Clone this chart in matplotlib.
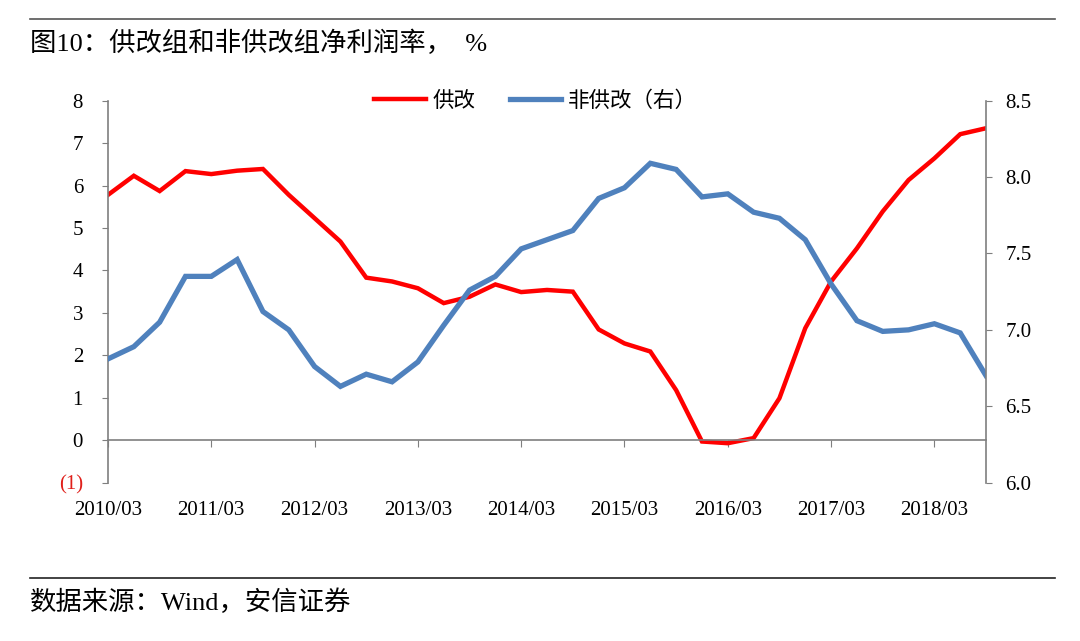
import matplotlib
matplotlib.use('Agg')
from matplotlib import pyplot as plt
from matplotlib.lines import Line2D

plt.rcParams['font.family'] = ['Liberation Serif', 'Noto Sans CJK SC', 'DejaVu Sans']

# quarterly, 2010/03 .. 2018/09
quarters = []
for y in range(2010, 2019):
    for m in ['03', '06', '09', '12']:
        quarters.append(f'{y}/{m}')
quarters = quarters[:35]

gong_gai = [5.78, 6.23, 5.87, 6.34, 6.27, 6.35, 6.39, 5.78, 5.23, 4.68,
            3.83, 3.74, 3.58, 3.23, 3.38, 3.67, 3.49, 3.54, 3.50, 2.61,
            2.28, 2.09, 1.18, -0.03, -0.07, 0.05, 0.99, 2.64, 3.74, 4.52,
            5.39, 6.13, 6.64, 7.21, 7.35]
fei_gong_gai = [6.81, 6.89, 7.05, 7.35, 7.35, 7.46, 7.12, 7.00, 6.76, 6.63,
                6.71, 6.66, 6.79, 7.03, 7.26, 7.35, 7.53, 7.59, 7.65, 7.86,
                7.93, 8.09, 8.05, 7.87, 7.89, 7.77, 7.73, 7.59, 7.30, 7.06,
                6.99, 7.00, 7.04, 6.98, 6.70]

left_ticks = [-1, 0, 1, 2, 3, 4, 5, 6, 7, 8]
left_labels = ['(1)', '0', '1', '2', '3', '4', '5', '6', '7', '8']
right_ticks = [6.0, 6.5, 7.0, 7.5, 8.0, 8.5]

RED = '#FF0000'
BLUE = '#4F81BD'
AXC = '#7F7F7F'

fig = plt.figure(figsize=(10.8, 6.41), dpi=100)
ax = fig.add_axes([0.1, 0.247, 0.813, 0.596])
ax2 = ax.twinx()

x = list(range(len(quarters)))
l1, = ax.plot(x, gong_gai, color=RED, lw=3.2, solid_joinstyle='miter', label='供改')
l2, = ax2.plot(x, fei_gong_gai, color=BLUE, lw=3.8, solid_joinstyle='miter', label='非供改（右）')

ax.set_xlim(0, len(quarters) - 1)
ax.set_ylim(-1, 8)
ax2.set_ylim(6.0, 8.5)

ax.set_yticks(left_ticks)
ax.set_yticklabels(left_labels)
ax.get_yticklabels()[0].set_color('#E0201B')
ax2.set_yticks(right_ticks)
ax2.set_yticklabels([f'{v:.1f}' for v in right_ticks])

xt = list(range(0, len(quarters), 4))
ax.set_xticks(xt)
ax.set_xticklabels([quarters[i] for i in xt])

ax.spines['bottom'].set_position(('data', 0))
for a in (ax, ax2):
    a.spines['top'].set_visible(False)
    for s in a.spines.values():
        s.set_color(AXC)
        s.set_linewidth(1.2)
ax2.spines['bottom'].set_visible(False)
ax2.spines['left'].set_visible(False)
ax.spines['right'].set_visible(False)

ax.tick_params(axis='y', direction='out', length=4, color=AXC, labelsize=15, pad=14)
ax.tick_params(axis='x', direction='out', length=5, color=AXC, labelsize=15, pad=39)
ax2.tick_params(axis='y', direction='out', length=4, color=AXC, labelsize=15, pad=10)

ax.legend(handles=[l1, l2], loc='center', bbox_to_anchor=(0.487, 0.997), ncol=2,
          frameon=False, fontsize=15.5, handlelength=2.4, columnspacing=1.6, handletextpad=0.3)

fig.text(0.028, 0.932, '图10：供改组和非供改组净利润率，  %', fontsize=19, va='center', ha='left')
fig.text(0.028, 0.061, '数据来源：Wind，安信证券', fontsize=19, va='center', ha='left')

fig.add_artist(Line2D([0.028, 0.977], [0.970, 0.970], color='#555555', lw=1.2))
fig.add_artist(Line2D([0.028, 0.977], [0.098, 0.098], color='#222222', lw=1.2))

fig.savefig('out.png', dpi=100)
